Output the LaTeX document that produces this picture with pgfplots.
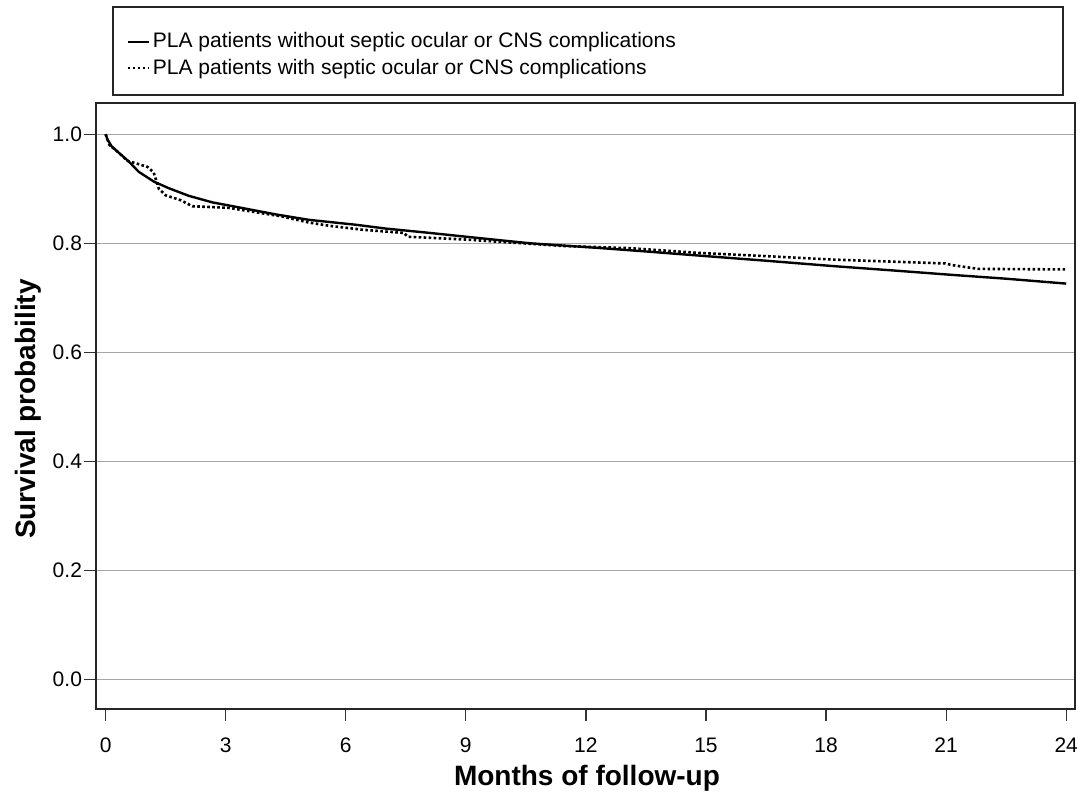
\documentclass[border=0pt]{standalone}
\usepackage{pgfplots}
\pgfplotsset{compat=1.18}
\usepackage{fontspec}
\setmainfont{Liberation Sans}
\begin{document}
\begin{tikzpicture}
\useasboundingbox (-48pt,-41.5pt) rectangle (491pt,354.5pt);
\begin{axis}[
  at={(0,0)}, anchor=south west,
  scale only axis,
  width=489.5pt, height=303pt,
  xmin=-0.24, xmax=24.22,
  ymin=-0.0545, ymax=1.0574,
  xtick={0,3,...,24},
  ytick={0,0.2,0.4,0.6,0.8,1.0},
  yticklabel style={/pgf/number format/fixed,/pgf/number format/fixed zerofill,/pgf/number format/precision=1, xshift=2.5pt},
  xticklabel style={yshift=-5pt},
  /pgf/number format/assume math mode=true,
  tick label style={font=\fontsize{10.5}{12}\selectfont},
  tick align=outside,
  major tick length=6pt,
  tick style={black!80, line width=0.6pt},
  xtick pos=bottom, ytick pos=left,
  ymajorgrids,
  grid style={gray!70, line width=0.6pt},
  axis line style={black!85, line width=0.9pt},
  xlabel={\textbf{Months of follow-up}},
  ylabel={\textbf{Survival probability}},
  label style={font=\fontsize{14}{16}\selectfont},
  xlabel style={at={(axis description cs:0.5015,-0.1139)}, anchor=center},
  ylabel style={at={(axis description cs:-0.0695,0.495)}, anchor=center},
  legend style={at={(axis description cs:0.0306,1.0792)}, anchor=west, draw=none, fill=none,
    font=\fontsize{10.5}{12.6}\selectfont, inner sep=0pt, row sep=1pt,
    nodes={inner sep=1.5pt}},
  legend cell align=left,
  legend image code/.code={\draw[#1] (0pt,0pt) -- (10.5pt,0pt);},
]
\addplot[black, line width=1.2pt] coordinates {
(0,1.000) (0.05,0.99) (0.15,0.978) (0.3,0.968) (0.58,0.950) (0.83,0.931)
(1.21,0.913) (1.58,0.901) (2.08,0.887) (2.67,0.875) (3.25,0.867) (4.25,0.853)
(5.08,0.843) (6.25,0.834) (7,0.827) (8.1,0.819) (9.4,0.809) (10.6,0.800)
(12.4,0.791) (13.5,0.785) (14.9,0.777) (16.5,0.768) (18.2,0.758) (19.7,0.750)
(21.15,0.742) (22.5,0.735) (24,0.726)
};
\addlegendentry{PLA patients without septic ocular or CNS complications}
\addplot[black, line width=1.3pt, dash pattern=on 1.3pt off 1.2pt] coordinates {
(0,1.000) (0.1,0.98) (0.3,0.968) (0.55,0.951) (0.75,0.947) (1.05,0.94) (1.2,0.93)
(1.33,0.90) (1.5,0.888) (1.875,0.879) (2.17,0.868) (3.08,0.865) (3.75,0.857)
(4.42,0.849) (5.08,0.838) (5.6,0.832) (6.4,0.825) (7.45,0.819) (7.55,0.812)
(8.96,0.807) (10.2,0.801) (11.45,0.795) (13.1,0.791) (14.9,0.782) (16.6,0.776)
(18.2,0.770) (20.97,0.763) (21.15,0.760) (21.8,0.753) (24,0.752)
};
\addlegendentry{PLA patients with septic ocular or CNS complications}
\end{axis}
\draw[black!85, line width=0.7pt] (8.5pt,307pt) rectangle (483.5pt,351pt);
\end{tikzpicture}
\end{document}
